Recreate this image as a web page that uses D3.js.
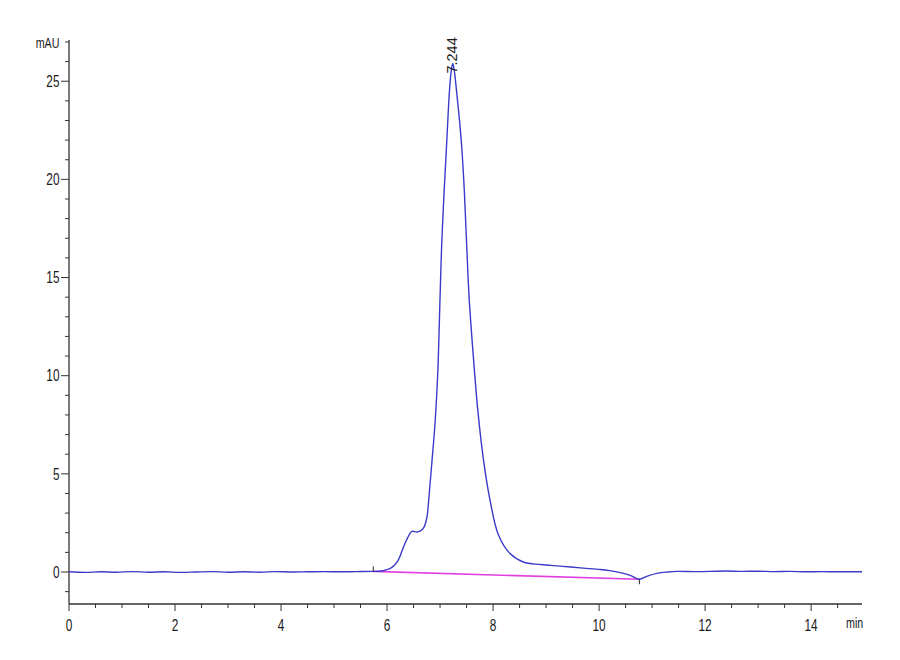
<!DOCTYPE html>
<html>
<head>
<meta charset="utf-8">
<script src="https://cdn.jsdelivr.net/npm/d3@7"></script>
<style>
  body { margin: 0; background: #fff; }
  text { font-family: "Liberation Sans", Arial, sans-serif; fill: #1a1a1a; }
</style>
</head>
<body>
<script>
// chromatogram signal (min, mAU)
let times = [0, 0.3, 0.6, 0.9, 1.2, 1.5, 1.8, 2.1, 2.4, 2.7, 3.0, 3.3, 3.6, 3.9, 4.2, 4.5, 4.8, 5.1, 5.4,
  5.74, 5.9, 6.0, 6.1, 6.2, 6.3, 6.38, 6.47, 6.56, 6.63, 6.69, 6.75, 6.79, 6.843, 6.906, 6.956, 7.0, 7.03, 7.075,
  7.126, 7.175, 7.21, 7.24, 7.27, 7.315, 7.36, 7.41, 7.46, 7.5, 7.55, 7.63, 7.71, 7.82, 7.94, 8.1, 8.32, 8.57,
  8.9, 9.26, 9.7, 10.02, 10.2, 10.4, 10.6, 10.76, 10.9, 11.09, 11.3, 11.47, 11.8, 12.1, 12.4, 12.7, 13.0,
  13.3, 13.6, 13.9, 14.2, 14.5, 14.96];
let signal = [0.01, -0.02, 0.01, -0.01, 0.02, -0.01, 0.01, -0.02, 0.0, 0.02, -0.01, 0.01, -0.01, 0.02, 0.0, 0.01, 0.02, 0.01, 0.02,
  0.03, 0.05, 0.12, 0.25, 0.55, 1.2, 1.7, 2.07, 2.04, 2.1, 2.25, 2.75, 3.8, 5.5, 7.6, 10.1, 14.0, 16.6, 19.3,
  21.9, 24.4, 25.5, 25.9, 25.5, 24.4, 23.2, 21.6, 19.3, 16.8, 13.9, 10.9, 8.3, 5.7, 3.7, 1.9, 0.94, 0.51,
  0.38, 0.3, 0.2, 0.13, 0.07, -0.03, -0.18, -0.37, -0.22, -0.07, 0.0, 0.03, 0.02, 0.03, 0.05, 0.03, 0.04,
  0.02, 0.03, 0.01, 0.02, 0.01, 0.01];

// integration baseline and peak info
let baseStart = {t: 5.74, v: 0.03};
let baseEnd = {t: 10.76, v: -0.37};
let peakTime = 7.244;
let peakHeight = 25.9;
let peakLabel = "7.244";

let xTicks = [0, 2, 4, 6, 8, 10, 12, 14];
let yTicks = [0, 5, 10, 15, 20, 25];

let svg = d3.select('body')
      .append('svg')
      .attr('width', 900)
      .attr('height', 660);

let x = d3.scaleLinear().domain([0, 14.96]).range([69, 862]);
let y = d3.scaleLinear().domain([-1.63, 27.1]).range([604, 40]);

let axisColor = "#333";
let squeeze = 0.74; // narrow look of the instrument font

function narrowText(sel, px, py, anchor, size, str) {
  sel.append("text")
    .attr("transform", "translate(" + px + "," + py + ") scale(" + squeeze + ",1)")
    .attr("text-anchor", anchor)
    .style("font-size", size + "px")
    .text(str);
}

// x axis
let xAxis = svg.append("g");
xAxis.append("line")
  .attr("x1", x(0)).attr("x2", x(14.96))
  .attr("y1", y(-1.63)).attr("y2", y(-1.63))
  .style("stroke", axisColor).style("stroke-width", 1.3);
xAxis.selectAll(".minor")
  .data(d3.range(0, 15, 0.5))
  .join("line")
  .attr("x1", d => x(d)).attr("x2", d => x(d))
  .attr("y1", y(-1.63))
  .attr("y2", d => y(-1.63) + (d % 2 === 0 ? 7 : 4))
  .style("stroke", axisColor).style("stroke-width", 1);
xTicks.forEach(d => narrowText(xAxis, x(d), 630.5, "middle", 16, d));
narrowText(svg, 846, 628, "start", 14.5, "min");

// y axis
let yAxis = svg.append("g");
yAxis.append("line")
  .attr("x1", x(0)).attr("x2", x(0))
  .attr("y1", y(27.1)).attr("y2", y(-1.63))
  .style("stroke", axisColor).style("stroke-width", 1.3);
yAxis.selectAll(".minor")
  .data(d3.range(-1, 28, 1))
  .join("line")
  .attr("x1", d => x(0) - (d % 5 === 0 ? 8 : 4)).attr("x2", x(0))
  .attr("y1", d => y(d)).attr("y2", d => y(d))
  .style("stroke", axisColor).style("stroke-width", 1);
yTicks.forEach(d => narrowText(yAxis, 59.5, y(d) + 5.8, "end", 16, d));
narrowText(svg, 59.5, 48, "end", 14.5, "mAU");

// integration baseline
svg.append("line")
  .attr("x1", x(baseStart.t)).attr("y1", y(baseStart.v))
  .attr("x2", x(baseEnd.t)).attr("y2", y(baseEnd.v))
  .style("stroke", "#e040e0")
  .style("stroke-width", 1.6);

// signal
let points = times.map((t, i) => ({t: t, v: signal[i]}));
let lineDrawer = d3.line()
      .x(d => x(d.t))
      .y(d => y(d.v))
      .curve(d3.curveCatmullRom.alpha(0.5));

svg.append("path")
  .style("fill", "none")
  .style("stroke", "#3b3bc9")
  .style("stroke-width", 1.4)
  .attr("d", lineDrawer(points));

// peak start / end markers
svg.append("line")
  .attr("x1", x(baseStart.t)).attr("x2", x(baseStart.t))
  .attr("y1", y(baseStart.v)).attr("y2", y(baseStart.v) - 5)
  .style("stroke", "#222").style("stroke-width", 1);
svg.append("line")
  .attr("x1", x(baseEnd.t)).attr("x2", x(baseEnd.t))
  .attr("y1", y(baseEnd.v)).attr("y2", y(baseEnd.v) + 5)
  .style("stroke", "#222").style("stroke-width", 1);

// peak label
svg.append("text")
  .attr("transform", "translate(" + (x(peakTime) + 4) + "," + (y(peakHeight) + 10) + ") rotate(-90)")
  .style("font-size", "14.5px")
  .text(peakLabel);
</script>
</body>
</html>
